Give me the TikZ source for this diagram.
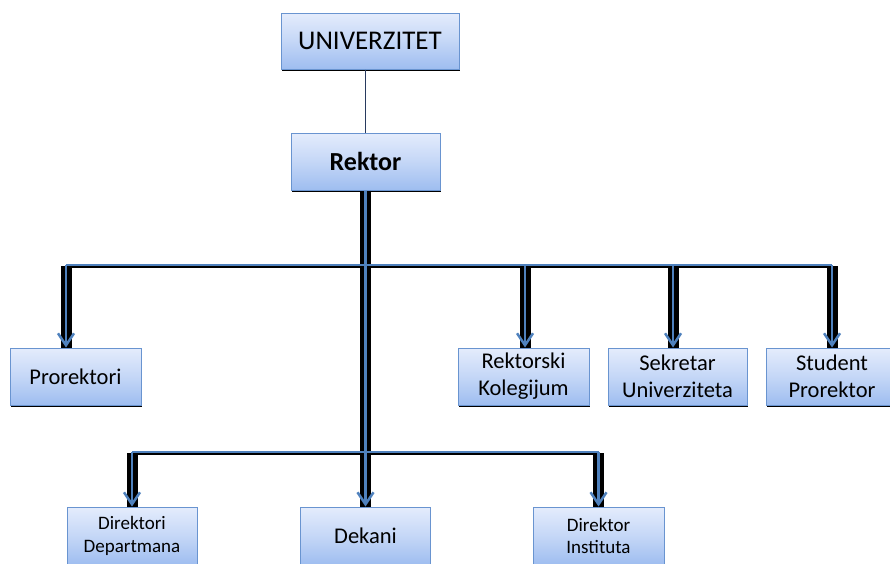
\documentclass[tikz,border=0pt]{standalone}
\usepackage{fontspec}
\setmainfont{Carlito}
\usetikzlibrary{arrows.meta}
\definecolor{boxtop}{RGB}{228,236,252}
\definecolor{boxbot}{RGB}{158,189,240}
\definecolor{boxline}{RGB}{105,148,208}
\definecolor{linkblue}{RGB}{79,129,189}
\definecolor{navy}{RGB}{40,58,95}
\tikzset{
  unit/.style={draw=boxline, line width=1pt, top color=boxtop, bottom color=boxbot,
    middle color=boxtop!55!boxbot, align=center, inner sep=0pt,
    font=\fontsize{22.5}{27}\selectfont},
  small/.style={font=\fontsize{19}{22.5}\selectfont},
  shade/.style={black, line width=2.2pt},
  bar/.style={black, line width=11pt},
  busline/.style={linkblue, line width=2pt},
  feed/.style={linkblue, line width=2.5pt, -{Straight Barb[length=12pt,width=16pt,line width=2.5pt]}},
}
\begin{document}
\begin{tikzpicture}[x=1pt,y=-1pt]
\useasboundingbox (0,0) rectangle (890,563);
\clip (0,0) rectangle (890,563);

% bottom-edge shadows of the boxes
\foreach \cx/\cy/\w/\h in {370/41/178/56, 365.5/161.5/149/57, 75.5/376.5/131/57,
  523.5/376.5/131/57, 677.5/376.5/139/57, 832/376.5/132/57}
  \fill[black] (\cx-\w/2+1,\cy+\h/2-1) rectangle (\cx+\w/2+1,\cy+\h/2+2);

% organisational units
\node[unit, minimum width=178pt, minimum height=56pt, font=\fontsize{27}{32}\selectfont] (uni) at (370,41) {UNIVERZITET};
\node[unit, minimum width=149pt, minimum height=57pt, font=\fontsize{26}{31}\selectfont\bfseries] (rek) at (365.5,161.5) {Rektor};
\node[unit, minimum width=131pt, minimum height=57pt] (pro) at (75.5,376.5) {Prorektori};
\node[unit, minimum width=131pt, minimum height=57pt] (kol) at (523.5,376.5) {Rektorski\\Kolegijum};
\node[unit, minimum width=139pt, minimum height=57pt] (sek) at (677.5,376.5) {Sekretar\\Univerziteta};
\node[unit, minimum width=132pt, minimum height=57pt] (stu) at (832,376.5) {Student\\Prorektor};
\node[unit, small, minimum width=130pt, minimum height=58pt] (dir) at (132,536) {Direktori\\Departmana};
\node[unit, minimum width=130pt, minimum height=58pt] (dek) at (365.5,536) {Dekani};
\node[unit, small, minimum width=131pt, minimum height=58pt] (ins) at (598.5,536) {Direktor\\Instituta};

% drop points on the box tops
\coordinate (pro-in) at ([xshift=-9.5pt]pro.north);
\coordinate (kol-in) at ([xshift=1.5pt]kol.north);
\coordinate (sek-in) at ([xshift=-4.5pt]sek.north);
\coordinate (stu-in) at (stu.north);
\coordinate (dir-in) at (dir.north);
\coordinate (ins-in) at (ins.north);

% levels of the two distribution buses
\coordinate (bt) at (0,265);
\coordinate (bb) at (0,452);

% link from the university to the rector
\draw[navy, line width=1.5pt] (rek.north |- uni.south) -- (rek.north);

% black underlay of the connectors
\draw[shade] (pro-in |- 0,267) -- (stu-in |- 0,267);
\draw[shade] (dir-in |- 0,454) -- (ins-in |- 0,454);
\draw[bar] (rek.south) -- (dek.north);
\foreach \t in {pro,kol,sek,stu}
  \draw[bar] (\t-in |- 0,266) -- (\t-in);
\foreach \t in {dir,ins}
  \draw[bar] (\t-in |- 0,453) -- (\t-in);

% blue buses and arrows
\draw[busline] (pro-in |- bt) -- (stu-in |- bt);
\draw[busline] (dir-in |- bb) -- (ins-in |- bb);
\draw[feed] (rek.south) -- (dek.north);
\foreach \t in {pro,kol,sek,stu}
  \draw[feed] (\t-in |- bt) -- (\t-in);
\foreach \t in {dir,ins}
  \draw[feed] (\t-in |- bb) -- (\t-in);
\end{tikzpicture}
\end{document}
